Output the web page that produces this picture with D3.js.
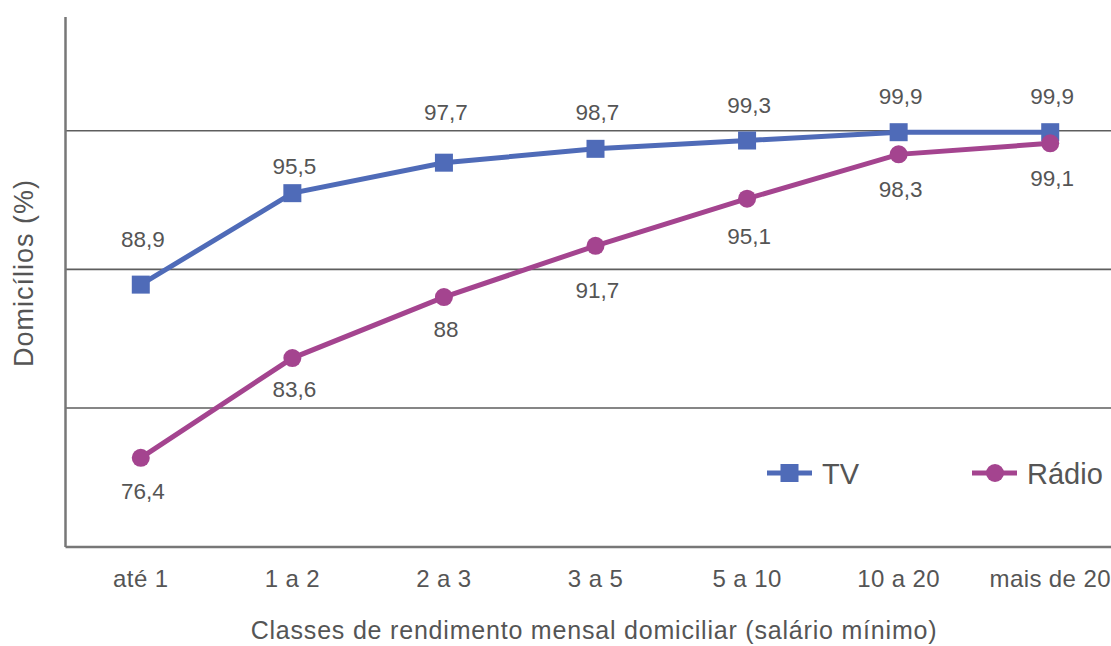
<!DOCTYPE html>
<html>
<head>
<meta charset="utf-8">
<script src="https://cdn.jsdelivr.net/npm/d3@7"></script>
<style>
  body { margin: 0; background: #fff; }
  text { font-family: "Liberation Sans", Arial, sans-serif; fill: #555; }
</style>
</head>
<body>
<svg id="chart"></svg>
<script>
const categories = ['até 1', '1 a 2', '2 a 3', '3 a 5', '5 a 10', '10 a 20', 'mais de 20'];
const tvValues = [88.9, 95.5, 97.7, 98.7, 99.3, 99.9, 99.9];
const radioValues = [76.4, 83.6, 88, 91.7, 95.1, 98.3, 99.1];
const gridTicks = [80, 90, 100];
const seriesNames = ['TV', 'Rádio'];

// label offsets (px from point to text baseline), hand placed like the original
const tvLabelDy = [-38, -19, -43, -29, -28, -28, -28];
const radioLabelDy = [41, 39, 40, 52, 45, 43, 43];

class LineChart {
    constructor(_config) {
        this.config = {
            parentElement: _config.parentElement,
            containerWidth: _config.containerWidth || 1111,
            containerHeight: _config.containerHeight || 646,
            margin: {top: 16.5, right: -15, bottom: 99.5, left: 65}
        };
        this.initVis();
    }

    initVis() {
        let vis = this;
        const m = vis.config.margin;
        vis.width = vis.config.containerWidth - m.left - m.right;
        vis.height = vis.config.containerHeight - m.top - m.bottom;

        vis.svg = d3.select(vis.config.parentElement)
            .attr('width', vis.config.containerWidth)
            .attr('height', vis.config.containerHeight);

        vis.chart = vis.svg.append('g')
            .attr('transform', `translate(${m.left}, ${m.top})`);

        vis.xScale = d3.scaleBand()
            .domain(categories)
            .range([0, vis.width]);

        vis.yScale = d3.scaleLinear()
            .domain([70, 108.25])
            .range([vis.height, 0]);

        vis.updateVis();
    }

    updateVis() {
        let vis = this;
        const xc = d => vis.xScale(d) + vis.xScale.bandwidth() / 2;

        // gridlines
        vis.chart.append('g')
            .selectAll('line')
            .data(gridTicks)
            .join('line')
            .attr('x1', 0)
            .attr('x2', vis.width)
            .attr('y1', d => vis.yScale(d))
            .attr('y2', d => vis.yScale(d))
            .attr('stroke', '#5e5e5e')
            .attr('stroke-width', 1.6);

        // x axis
        vis.xAxis = d3.axisBottom(vis.xScale).tickSize(0).tickPadding(23);
        vis.xAxisGroup = vis.chart.append('g')
            .attr('transform', `translate(0, ${vis.height})`)
            .call(vis.xAxis);
        vis.xAxisGroup.select('.domain').attr('stroke', '#777').attr('stroke-width', 2.5);
        vis.xAxisGroup.selectAll('.tick text')
            .attr('fill', '#555')
            .style('font-size', '24px')
            .style('letter-spacing', '0.4px')
            .style('font-family', '"Liberation Sans", Arial, sans-serif');

        // y axis line only
        vis.yAxis = d3.axisLeft(vis.yScale).tickValues([]).tickSizeOuter(0);
        vis.yAxisGroup = vis.chart.append('g').call(vis.yAxis);
        vis.yAxisGroup.select('.domain').attr('stroke', '#777').attr('stroke-width', 2.5);

        // axis titles
        vis.svg.append('text')
            .attr('x', 594)
            .attr('y', 639)
            .attr('text-anchor', 'middle')
            .style('font-size', '25px')
            .style('letter-spacing', '0.8px')
            .text('Classes de rendimento mensal domiciliar (salário mínimo)');

        vis.svg.append('text')
            .attr('transform', 'translate(33, 273) rotate(-90)')
            .attr('text-anchor', 'middle')
            .style('font-size', '27px')
            .style('letter-spacing', '1px')
            .text('Domicílios (%)');

        vis.renderVis(xc);
    }

    renderVis(xc) {
        let vis = this;
        const series = [
            {name: seriesNames[0], values: tvValues, dy: tvLabelDy, color: '#4f6bb8', shape: 'square'},
            {name: seriesNames[1], values: radioValues, dy: radioLabelDy, color: '#a4448f', shape: 'circle'}
        ];

        const line = d3.line()
            .x((d, i) => xc(categories[i]))
            .y(d => vis.yScale(d));

        series.forEach(s => {
            const g = vis.chart.append('g');
            g.append('path')
                .datum(s.values)
                .attr('d', line)
                .attr('fill', 'none')
                .attr('stroke', s.color)
                .attr('stroke-width', 5);

            if (s.shape === 'square') {
                g.selectAll('rect')
                    .data(s.values)
                    .join('rect')
                    .attr('x', (d, i) => xc(categories[i]) - 9)
                    .attr('y', d => vis.yScale(d) - 9)
                    .attr('width', 18)
                    .attr('height', 18)
                    .attr('fill', s.color);
            } else {
                g.selectAll('circle')
                    .data(s.values)
                    .join('circle')
                    .attr('cx', (d, i) => xc(categories[i]))
                    .attr('cy', d => vis.yScale(d))
                    .attr('r', 9)
                    .attr('fill', s.color);
            }

            g.selectAll('text.lbl')
                .data(s.values)
                .join('text')
                .attr('class', 'lbl')
                .attr('x', (d, i) => xc(categories[i]) + 2)
                .attr('y', (d, i) => vis.yScale(d) + s.dy[i])
                .attr('text-anchor', 'middle')
                .style('font-size', '22.5px')
                .text(d => String(d).replace('.', ','));
        });

        // legend
        const legend = vis.svg.append('g').attr('transform', 'translate(767, 473)');
        const items = legend.selectAll('g')
            .data(series)
            .join('g')
            .attr('transform', (d, i) => `translate(${i * 205}, 0)`);
        items.append('line')
            .attr('x1', 0).attr('x2', 45)
            .attr('stroke', d => d.color)
            .attr('stroke-width', 5);
        items.filter(d => d.shape === 'square').append('rect')
            .attr('x', 13.5).attr('y', -9).attr('width', 18).attr('height', 18)
            .attr('fill', d => d.color);
        items.filter(d => d.shape === 'circle').append('circle')
            .attr('cx', 23).attr('r', 9)
            .attr('fill', d => d.color);
        items.append('text')
            .attr('x', (d, i) => i === 0 ? 55 : 55)
            .attr('y', 11)
            .style('font-size', '29px')
            .text(d => d.name);
    }
}

new LineChart({parentElement: '#chart'});
</script>
</body>
</html>
